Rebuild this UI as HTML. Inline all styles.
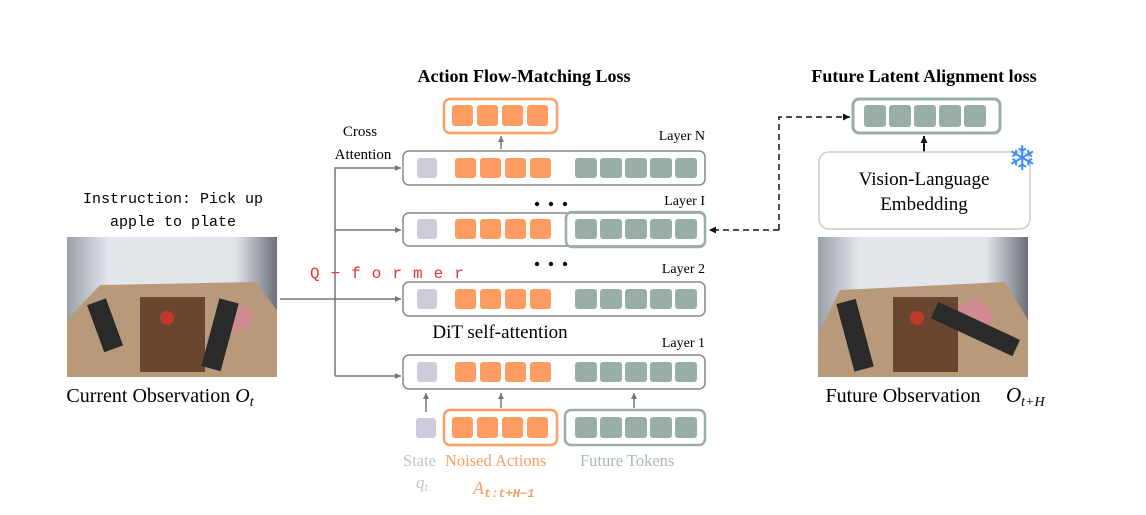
<!DOCTYPE html>
<html><head><meta charset="utf-8"><style>
body{margin:0;background:#fff;}
svg text{font-family:"Liberation Serif",serif;}
</style></head><body>
<svg width="1146" height="510" viewBox="0 0 1146 510" xmlns="http://www.w3.org/2000/svg">
<defs>
<marker id="ag" markerWidth="6" markerHeight="6" refX="6" refY="3" orient="auto" markerUnits="userSpaceOnUse"><path d="M0,0 L6,3 L0,6 z" fill="#777"/></marker>
<marker id="ab" markerWidth="7" markerHeight="7" refX="7" refY="3.5" orient="auto" markerUnits="userSpaceOnUse"><path d="M0,0 L7,3.5 L0,7 z" fill="#111"/></marker>
<linearGradient id="wall" x1="0" y1="0" x2="1" y2="0"><stop offset="0" stop-color="#9aa0a8"/><stop offset="0.2" stop-color="#e4e7ec"/><stop offset="0.8" stop-color="#e2e5ea"/><stop offset="1" stop-color="#6b7078"/></linearGradient>
<g id="tok">
<rect x="0" y="0" width="20" height="20" rx="3" fill="#cfcbdc"/>
<rect x="38" y="0" width="21" height="20" rx="3" fill="#fd9d62"/>
<rect x="63" y="0" width="21" height="20" rx="3" fill="#fd9d62"/>
<rect x="88" y="0" width="21" height="20" rx="3" fill="#fd9d62"/>
<rect x="113" y="0" width="21" height="20" rx="3" fill="#fd9d62"/>
<rect x="158" y="0" width="22" height="20" rx="3" fill="#9aaea8"/>
<rect x="183" y="0" width="22" height="20" rx="3" fill="#9aaea8"/>
<rect x="208" y="0" width="22" height="20" rx="3" fill="#9aaea8"/>
<rect x="233" y="0" width="22" height="20" rx="3" fill="#9aaea8"/>
<rect x="258" y="0" width="22" height="20" rx="3" fill="#9aaea8"/>
</g>
</defs>

<text x="524" y="82" text-anchor="middle" font-size="18" font-weight="bold">Action Flow-Matching Loss</text>
<text x="924" y="82" text-anchor="middle" font-size="18" font-weight="bold">Future Latent Alignment loss</text>

<rect x="444" y="99" width="113" height="34" rx="6" fill="#fff" stroke="#fd9d62" stroke-width="2.5"/>
<rect x="452" y="105" width="21" height="21" rx="3" fill="#fd9d62"/>
<rect x="477" y="105" width="21" height="21" rx="3" fill="#fd9d62"/>
<rect x="502" y="105" width="21" height="21" rx="3" fill="#fd9d62"/>
<rect x="527" y="105" width="21" height="21" rx="3" fill="#fd9d62"/>
<line x1="501" y1="149" x2="501" y2="136" stroke="#777" stroke-width="1.5" marker-end="url(#ag)"/>

<g stroke="#888" stroke-width="1.5" fill="#fff">
<rect x="403" y="151" width="302" height="34" rx="6"/>
<rect x="403" y="213" width="302" height="33" rx="6"/>
<rect x="403" y="282" width="302" height="34" rx="6"/>
<rect x="403" y="355" width="302" height="34" rx="6"/>
</g>
<rect x="566" y="212" width="139" height="35" rx="6" fill="none" stroke="#9aaea8" stroke-width="2.5"/>
<use href="#tok" x="417" y="158"/>
<use href="#tok" x="417" y="219"/>
<use href="#tok" x="417" y="289"/>
<use href="#tok" x="417" y="362"/>

<text x="705" y="140" text-anchor="end" font-size="14">Layer N</text>
<text x="705" y="205" text-anchor="end" font-size="14">Layer I</text>
<text x="705" y="273" text-anchor="end" font-size="14">Layer 2</text>
<text x="705" y="347" text-anchor="end" font-size="14">Layer 1</text>
<circle cx="537" cy="204" r="2.2" fill="#111"/><circle cx="551" cy="204" r="2.2" fill="#111"/><circle cx="565" cy="204" r="2.2" fill="#111"/>
<circle cx="537" cy="264" r="2.2" fill="#111"/><circle cx="551" cy="264" r="2.2" fill="#111"/><circle cx="565" cy="264" r="2.2" fill="#111"/>
<text x="500" y="338" text-anchor="middle" font-size="19">DiT self-attention</text>

<text x="360" y="136" text-anchor="middle" font-size="15">Cross</text>
<text x="363" y="159" text-anchor="middle" font-size="15">Attention</text>

<g stroke="#777" stroke-width="1.5" fill="none">
<polyline points="335,376 335,168 401,168" marker-end="url(#ag)"/>
<line x1="335" y1="230" x2="401" y2="230" marker-end="url(#ag)"/>
<line x1="280" y1="299" x2="401" y2="299" marker-end="url(#ag)"/>
<line x1="335" y1="376" x2="401" y2="376" marker-end="url(#ag)"/>
<line x1="426" y1="412" x2="426" y2="393" marker-end="url(#ag)"/>
<line x1="501" y1="408" x2="501" y2="393" marker-end="url(#ag)"/>
<line x1="634" y1="408" x2="634" y2="393" marker-end="url(#ag)"/>
</g>
<text x="310" y="278" font-size="16" fill="#f03030" letter-spacing="11" style="font-family:'Liberation Mono',monospace">Q−former</text>

<rect x="416" y="418" width="20" height="20" rx="3" fill="#cfcbdc"/>
<rect x="444" y="410" width="113" height="35" rx="6" fill="#fff" stroke="#fd9d62" stroke-width="2.5"/>
<rect x="452" y="417" width="21" height="21" rx="3" fill="#fd9d62"/>
<rect x="477" y="417" width="21" height="21" rx="3" fill="#fd9d62"/>
<rect x="502" y="417" width="21" height="21" rx="3" fill="#fd9d62"/>
<rect x="527" y="417" width="21" height="21" rx="3" fill="#fd9d62"/>
<rect x="565" y="410" width="140" height="35" rx="6" fill="#fff" stroke="#9aaea8" stroke-width="2.5"/>
<rect x="575" y="417" width="22" height="21" rx="3" fill="#9aaea8"/>
<rect x="600" y="417" width="22" height="21" rx="3" fill="#9aaea8"/>
<rect x="625" y="417" width="22" height="21" rx="3" fill="#9aaea8"/>
<rect x="650" y="417" width="22" height="21" rx="3" fill="#9aaea8"/>
<rect x="675" y="417" width="22" height="21" rx="3" fill="#9aaea8"/>
<text x="403" y="466" font-size="16.5" fill="#c4c0d4">State</text>
<text x="445" y="466" font-size="16.5" fill="#fd9d62">Noised Actions</text>
<text x="580" y="466" font-size="16.5" fill="#a8bab4">Future Tokens</text>
<text x="416" y="488" font-size="17" font-style="italic" fill="#c4c0d4">q<tspan font-size="12" dy="3">t</tspan></text>
<text x="473" y="494" font-size="18" font-style="italic" fill="#fd9d62">A<tspan font-size="12" dy="3" style="font-family:'Liberation Mono',monospace" font-weight="bold">t:t+H−1</tspan></text>

<text x="173" y="203" text-anchor="middle" font-size="15" style="font-family:'Liberation Mono',monospace">Instruction: Pick up</text>
<text x="173" y="226" text-anchor="middle" font-size="15" style="font-family:'Liberation Mono',monospace">apple to plate</text>
<rect x="67" y="237" width="210" height="140" fill="url(#wall)"/>
<polygon points="67,320 100,285 255,282 277,310 277,377 67,377" fill="#b89a7a"/>
<rect x="140" y="297" width="65" height="75" fill="#6a4530"/>
<circle cx="167" cy="318" r="7" fill="#c0392b"/>
<ellipse cx="236" cy="318" rx="17" ry="13" fill="#d08a90"/>
<rect x="95" y="300" width="20" height="50" fill="#2a2a2a" transform="rotate(-20 106 325)"/>
<rect x="210" y="300" width="20" height="70" fill="#2a2a2a" transform="rotate(15 221 335)"/>
<text x="160" y="402" text-anchor="middle" font-size="20">Current Observation <tspan font-style="italic">O</tspan><tspan font-style="italic" font-size="14" dy="4">t</tspan></text>

<rect x="853" y="99" width="147" height="34" rx="6" fill="#fff" stroke="#9aaea8" stroke-width="3"/>
<rect x="864" y="105" width="22" height="22" rx="3" fill="#9aaea8"/>
<rect x="889" y="105" width="22" height="22" rx="3" fill="#9aaea8"/>
<rect x="914" y="105" width="22" height="22" rx="3" fill="#9aaea8"/>
<rect x="939" y="105" width="22" height="22" rx="3" fill="#9aaea8"/>
<rect x="964" y="105" width="22" height="22" rx="3" fill="#9aaea8"/>
<line x1="924" y1="152" x2="924" y2="136" stroke="#111" stroke-width="2" marker-end="url(#ab)"/>
<rect x="819" y="152" width="211" height="77" rx="10" fill="#fff" stroke="#ccc" stroke-width="1.5"/>
<text x="924" y="185" text-anchor="middle" font-size="19">Vision-Language</text>
<text x="924" y="210" text-anchor="middle" font-size="19">Embedding</text>
<text x="1022" y="170" text-anchor="middle" font-size="34" fill="#3d8bff" style="font-family:'DejaVu Sans',sans-serif">❄</text>
<polyline points="779,230 779,117 850,117" fill="none" stroke="#111" stroke-width="1.5" stroke-dasharray="6,4" marker-end="url(#ab)"/>
<line x1="779" y1="230" x2="709" y2="230" stroke="#111" stroke-width="1.5" stroke-dasharray="6,4" marker-end="url(#ab)"/>

<rect x="818" y="237" width="210" height="140" fill="url(#wall)"/>
<polygon points="818,335 840,290 1005,282 1028,320 1028,377 818,377" fill="#b89a7a"/>
<rect x="893" y="297" width="65" height="75" fill="#6a4530"/>
<circle cx="917" cy="318" r="7" fill="#c0392b"/>
<ellipse cx="975" cy="315" rx="18" ry="14" fill="#d08a90"/>
<rect x="845" y="300" width="20" height="70" fill="#2a2a2a" transform="rotate(-15 856 335)"/>
<rect x="930" y="320" width="90" height="18" fill="#2a2a2a" transform="rotate(25 975 330)"/>
<text x="903" y="402" text-anchor="middle" font-size="20">Future Observation</text>
<text x="1006" y="402" font-size="21" font-style="italic">O<tspan font-size="14" dy="4">t+H</tspan></text>
</svg>
</body></html>
